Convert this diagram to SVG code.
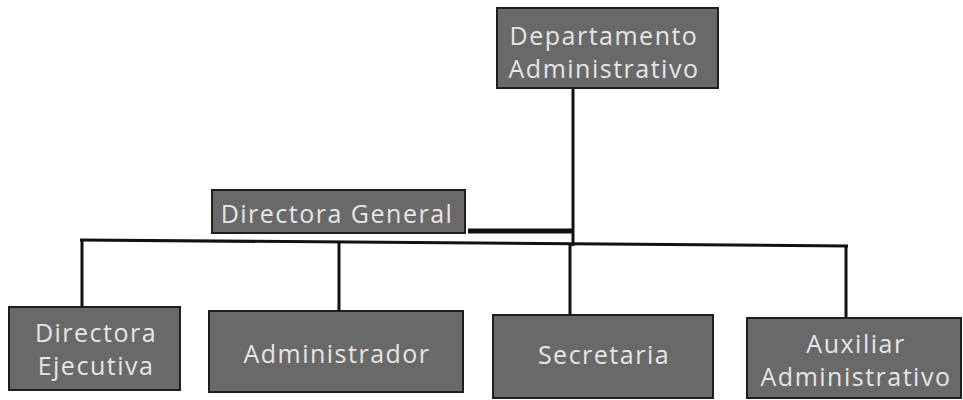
<svg xmlns="http://www.w3.org/2000/svg" width="963" height="400" viewBox="0 0 963 400">
<style>
.box{fill:#696969;stroke:#1e1e1e;stroke-width:2}
.t{font-family:"Open Sans","Liberation Sans",sans-serif;font-size:25px;letter-spacing:1.5px;fill:#e6e6e6;text-anchor:middle}
.ln{stroke:#111;stroke-width:3;fill:none}
</style>
<rect width="963" height="400" fill="#ffffff"/>
<g id="connectors">
<line class="ln" x1="573" y1="88" x2="573" y2="246"/>
<line x1="468" y1="231" x2="573" y2="231" stroke="#111" stroke-width="5"/>
<line class="ln" x1="80" y1="240" x2="848" y2="246"/>
<line class="ln" x1="82" y1="240" x2="82" y2="307"/>
<line class="ln" x1="339" y1="242" x2="339" y2="311"/>
<line class="ln" x1="570" y1="244" x2="570" y2="315"/>
<line class="ln" x1="846" y1="246" x2="846" y2="318"/>
</g>
<g id="n-depto">
<rect class="box" x="497" y="8" width="221" height="80"/>
<text class="t" x="604" y="45">Departamento</text>
<text class="t" x="604" y="78">Administrativo</text>
</g>
<g id="n-dirgen">
<rect class="box" x="212" y="190" width="253" height="43"/>
<text class="t" x="337" y="223">Directora General</text>
</g>
<g id="n-direje">
<rect class="box" x="9" y="307" width="171" height="83"/>
<text class="t" x="96" y="342">Directora</text>
<text class="t" x="96" y="375">Ejecutiva</text>
</g>
<g id="n-admin">
<rect class="box" x="209" y="311" width="254" height="81"/>
<text class="t" x="337" y="363">Administrador</text>
</g>
<g id="n-secre">
<rect class="box" x="493" y="315" width="220" height="83"/>
<text class="t" x="604" y="364">Secretaria</text>
</g>
<g id="n-aux">
<rect class="box" x="747" y="318" width="214" height="80"/>
<text class="t" x="856" y="353">Auxiliar</text>
<text class="t" x="856" y="386">Administrativo</text>
</g>
</svg>
